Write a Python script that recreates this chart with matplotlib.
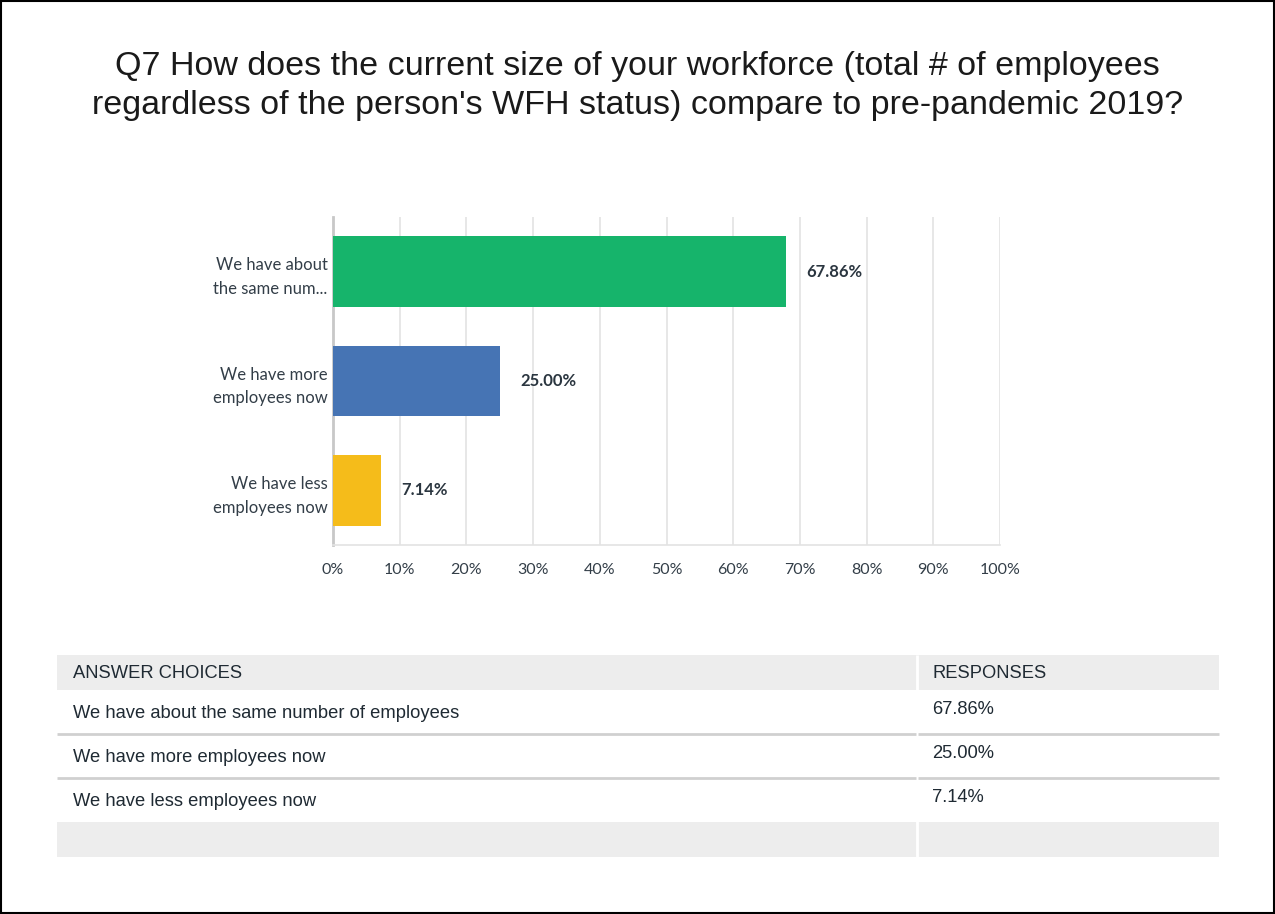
import matplotlib
matplotlib.use("Agg")
import matplotlib.pyplot as plt
from matplotlib.patches import Rectangle

title = ("Q7 How does the current size of your workforce (total # of employees\n"
         "regardless of the person's WFH status) compare to pre-pandemic 2019?")
short_labels = ["We have about\nthe same num...", "We have more\nemployees now", "We have less\nemployees now"]
full_labels = ["We have about the same number of employees", "We have more employees now",
               "We have less employees now"]
values = [67.86, 25.00, 7.14]
colors = ["#16b46b", "#4674b4", "#f5bc1a"]
ticks = [0, 10, 20, 30, 40, 50, 60, 70, 80, 90, 100]

txt_dark = "#333e48"

W, H = 1275, 914
fig = plt.figure(figsize=(W / 100, H / 100), dpi=100)
fig.patch.set_facecolor("white")

# full-figure overlay in pixel coordinates for frame + table
bg = fig.add_axes([0, 0, 1, 1])
bg.set_xlim(0, W)
bg.set_ylim(H, 0)
bg.axis("off")
bg.add_patch(Rectangle((0.5, 0.5), W - 1.5, H - 1.5, fill=False, edgecolor="black", lw=1.5))

fig.text(0.5, 1 - 86 / H, title, ha="center", va="center", fontsize=24.5,
         family="Liberation Sans", color="#1a1a1a", linespacing=1.32)

# bar chart
ax = fig.add_axes([333 / W, 1 - 545 / H, (1000 - 333) / W, (545 - 217) / H])
ypos = list(range(len(values)))
ax.barh(ypos, values, height=0.645, color=colors, zorder=3)
ax.set_xlim(0, 100)
ax.set_ylim(2.5, -0.5)
ax.set_xticks(ticks)
ax.set_xticklabels([f"{t}%" for t in ticks], fontsize=11.5, family="Lato", color=txt_dark)
ax.set_yticks(ypos)
ax.set_yticklabels(short_labels, fontsize=12, family="Lato", color=txt_dark, linespacing=1.6)
ax.tick_params(axis="x", length=0, pad=13)
ax.tick_params(axis="y", length=0, pad=4)
ax.grid(axis="x", color="#e3e3e3", lw=1.2, zorder=0)
for s in ["top", "right"]:
    ax.spines[s].set_visible(False)
ax.spines["left"].set_color("#c8c8c8")
ax.spines["left"].set_linewidth(2)
ax.spines["bottom"].set_color("#e3e3e3")
ax.spines["bottom"].set_linewidth(1.2)
for y, v in zip(ypos, values):
    ax.annotate(f"{v:.2f}%", (v, y), xytext=(15, 0), textcoords="offset points",
                ha="left", va="center", fontsize=12, family="Lato", fontweight="bold",
                color="#2b3640")

# answer table
x0, xs, x1 = 57, 917, 1219
gray = "#ededed"
bg.add_patch(Rectangle((x0, 655), x1 - x0, 35, color=gray, lw=0))
bg.add_patch(Rectangle((x0, 822), x1 - x0, 35, color=gray, lw=0))
bg.plot([xs, xs], [655, 857], color="white", lw=2, solid_capstyle="butt")
for yl in [734, 778]:
    bg.plot([x0, xs - 1], [yl, yl], color="#d0d0d0", lw=2, solid_capstyle="butt")
    bg.plot([xs + 1, x1], [yl, yl], color="#d0d0d0", lw=2, solid_capstyle="butt")
tkw = dict(family="Liberation Sans", fontsize=13.2, color="#1f2a33", va="center")
bg.text(73, 673, "ANSWER CHOICES", **tkw)
bg.text(932, 673, "RESPONSES", **tkw)
row_y = [714, 758, 802]
for yy, lab, v in zip(row_y, full_labels, values):
    bg.text(73, yy, lab, **tkw)
    bg.text(932, yy - 5, f"{v:.2f}%", **tkw)

fig.savefig("out.png", dpi=100, facecolor="white")
